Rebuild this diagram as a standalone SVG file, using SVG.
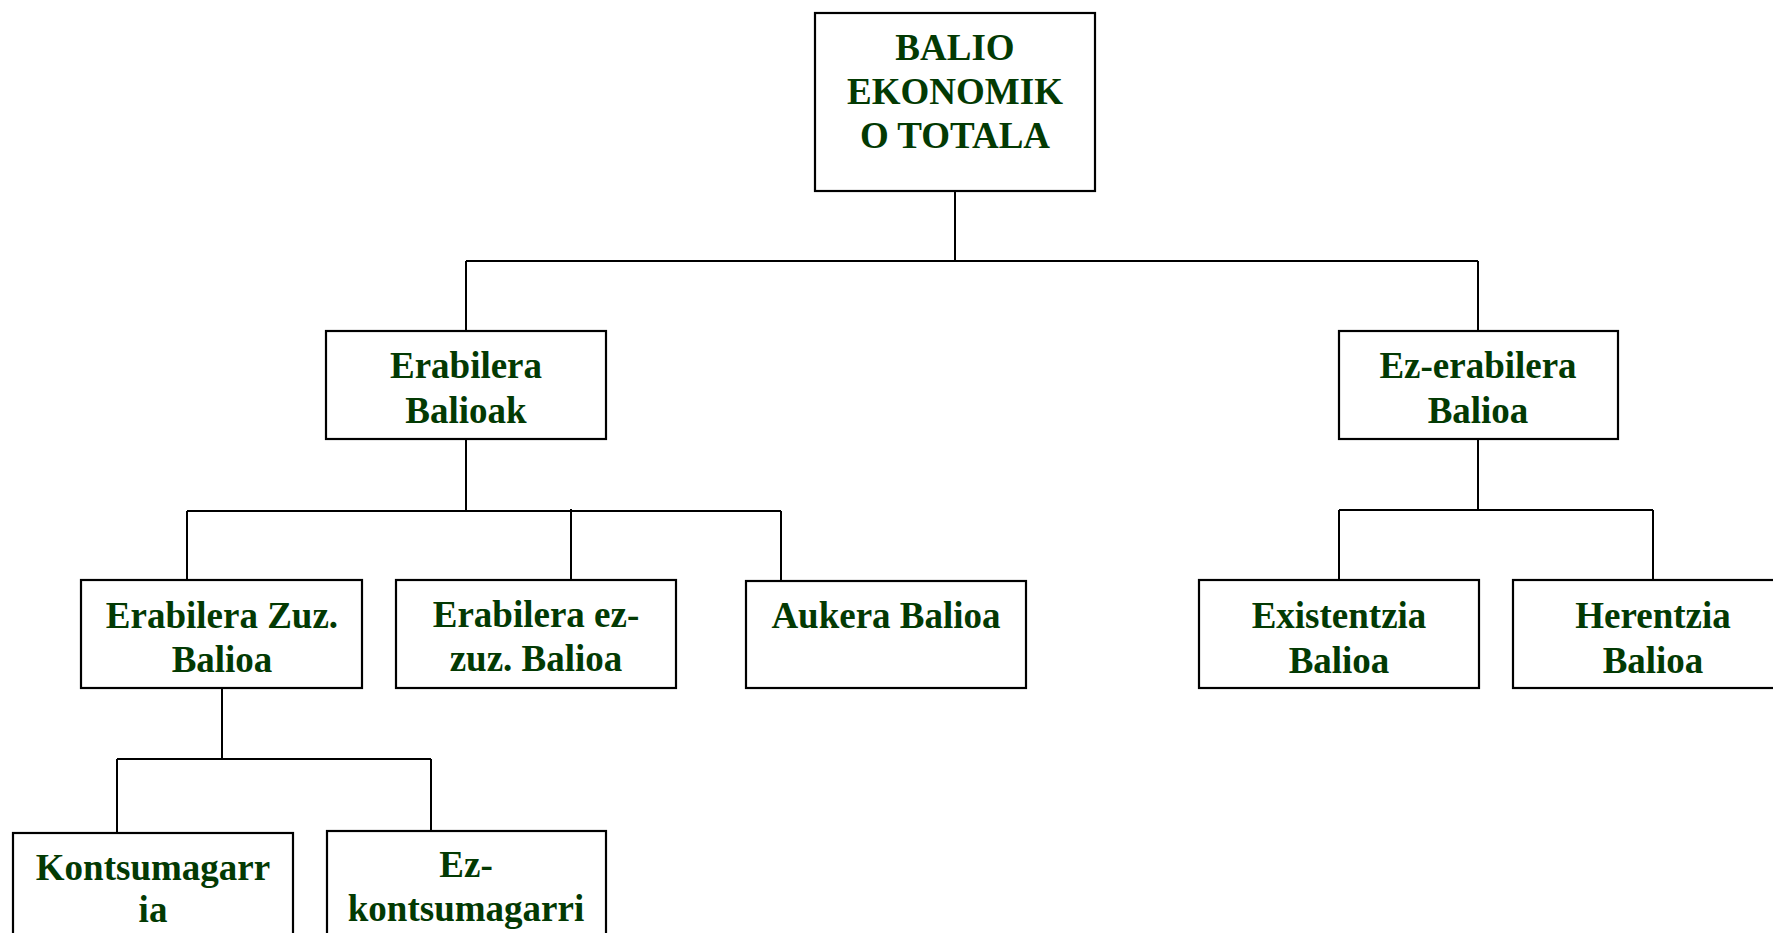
<svg xmlns="http://www.w3.org/2000/svg" width="1773" height="933" viewBox="0 0 1773 933">
<style>
.box{fill:#ffffff;stroke:#000000;stroke-width:2.2}
.lbl{font-family:"Liberation Serif","Times New Roman",serif;font-weight:bold;font-size:37px;fill:#033a03;text-anchor:middle}
.conn{fill:none;stroke:#000000;stroke-width:2}
</style>
<rect width="1773" height="933" fill="#ffffff"/>
<g id="connectors">
<path class="conn" d="M955 191 V261 M466 261 H1478 M466 261 V331 M1478 261 V331"/>
<path class="conn" d="M466 439 V511 M187 511 H781 M187 511 V580 M571 509 V580 M781 511 V580"/>
<path class="conn" d="M1478 439 V510 M1339 510 H1653 M1339 510 V580 M1653 510 V580"/>
<path class="conn" d="M222 688 V759 M117 759 H431 M117 759 V833 M431 759 V831"/>
</g>
<g id="root">
<rect class="box" x="815" y="13" width="280" height="178"/>
<text class="lbl" x="955" y="60">BALIO</text>
<text class="lbl" x="955" y="104">EKONOMIK</text>
<text class="lbl" x="955" y="148">O TOTALA</text>
</g>
<g id="erabilera-balioak">
<rect class="box" x="326" y="331" width="280" height="108"/>
<text class="lbl" x="466" y="378">Erabilera</text>
<text class="lbl" x="466" y="423">Balioak</text>
</g>
<g id="ez-erabilera-balioa">
<rect class="box" x="1339" y="331" width="279" height="108"/>
<text class="lbl" x="1478" y="378">Ez-erabilera</text>
<text class="lbl" x="1478" y="423">Balioa</text>
</g>
<g id="erabilera-zuz-balioa">
<rect class="box" x="81" y="580" width="281" height="108"/>
<text class="lbl" x="222" y="628">Erabilera Zuz.</text>
<text class="lbl" x="222" y="672">Balioa</text>
</g>
<g id="erabilera-ez-zuz-balioa">
<rect class="box" x="396" y="580" width="280" height="108"/>
<text class="lbl" x="536" y="627">Erabilera ez-</text>
<text class="lbl" x="536" y="671">zuz. Balioa</text>
</g>
<g id="aukera-balioa">
<rect class="box" x="746" y="581" width="280" height="107"/>
<text class="lbl" x="886" y="628">Aukera Balioa</text>
</g>
<g id="existentzia-balioa">
<rect class="box" x="1199" y="580" width="280" height="108"/>
<text class="lbl" x="1339" y="628">Existentzia</text>
<text class="lbl" x="1339" y="673">Balioa</text>
</g>
<g id="herentzia-balioa">
<rect class="box" x="1513" y="580" width="280" height="108"/>
<text class="lbl" x="1653" y="628">Herentzia</text>
<text class="lbl" x="1653" y="673">Balioa</text>
</g>
<g id="kontsumagarria">
<rect class="box" x="13" y="833" width="280" height="108"/>
<text class="lbl" x="153" y="880">Kontsumagarr</text>
<text class="lbl" x="153" y="922">ia</text>
</g>
<g id="ez-kontsumagarri">
<rect class="box" x="327" y="831" width="279" height="108"/>
<text class="lbl" x="466" y="877">Ez-</text>
<text class="lbl" x="466" y="921">kontsumagarri</text>
</g>
</svg>
